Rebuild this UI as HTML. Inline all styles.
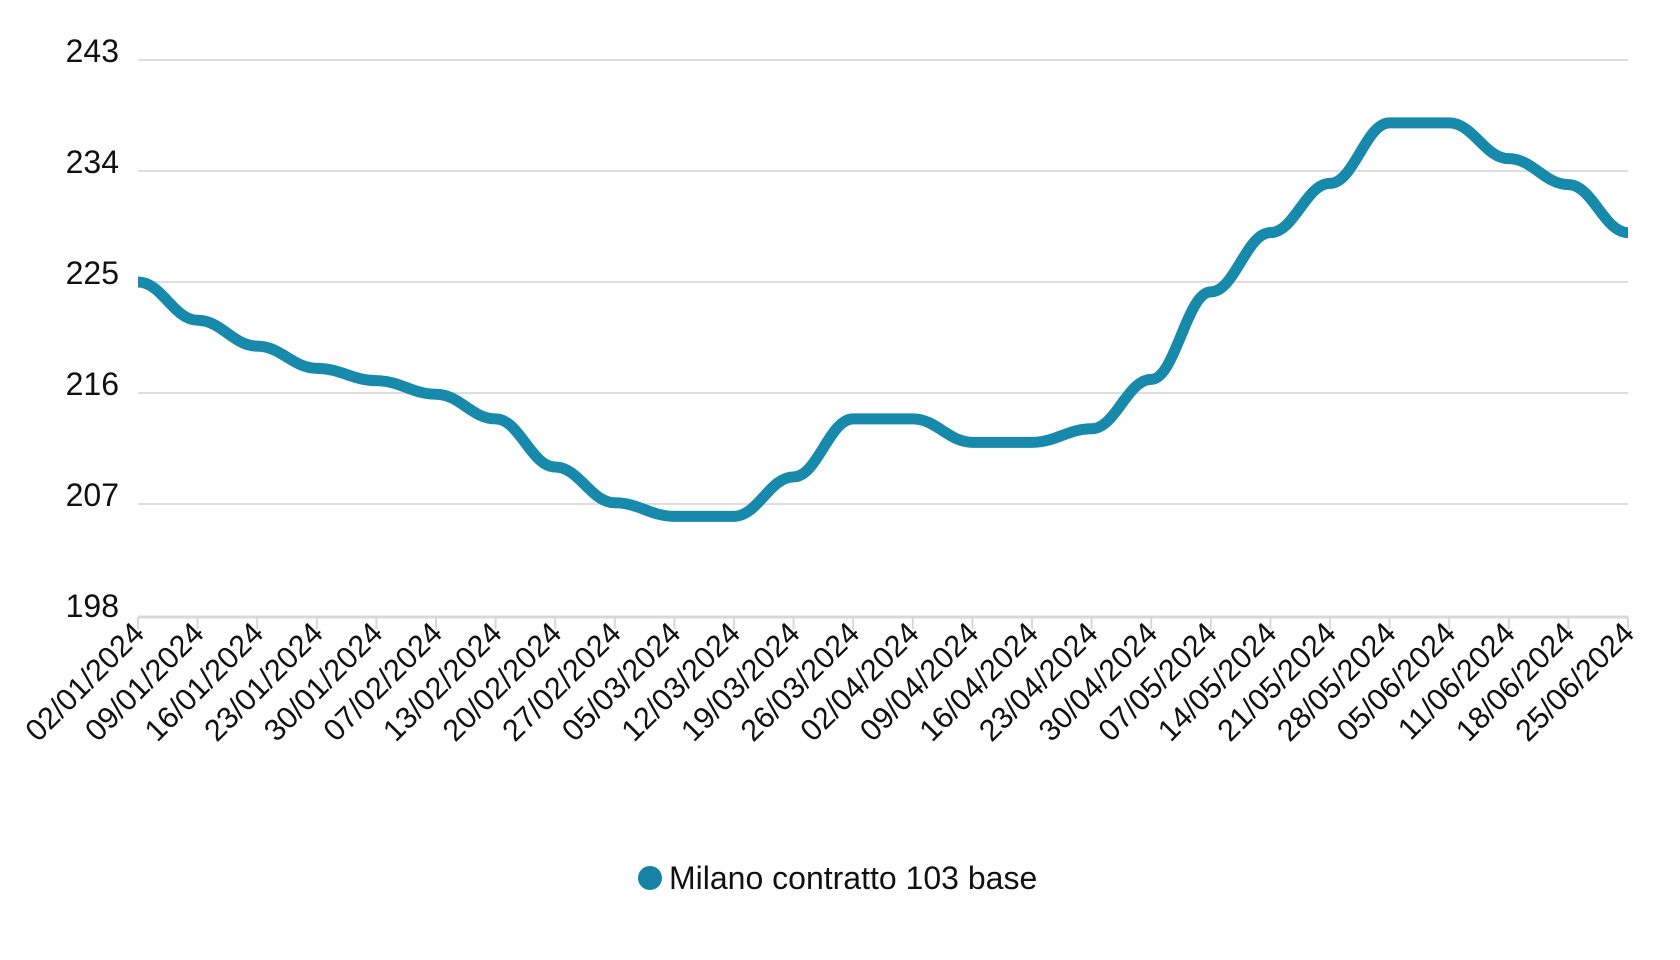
<!DOCTYPE html>
<html><head><meta charset="utf-8"><style>
html,body{margin:0;padding:0;background:#fff;width:1680px;height:960px;overflow:hidden}
svg{display:block;font-family:"Liberation Sans",sans-serif}
</style></head><body>
<svg id="s" width="1680" height="960" xmlns="http://www.w3.org/2000/svg"></svg>
<script>
const s=document.getElementById('s');
const L=138,R=1628,Y0=60,K=111/9;
const yv=v=>Y0+(243-v)*K;
const vals=[225,221.9,219.8,218,217,215.9,213.9,210,207.1,206,206,209.2,213.9,213.9,212,212,213.1,217.1,224.2,229,233,237.9,237.9,235,232.9,229];
const labels=["02/01/2024","09/01/2024","16/01/2024","23/01/2024","30/01/2024","07/02/2024","13/02/2024","20/02/2024","27/02/2024","05/03/2024","12/03/2024","19/03/2024","26/03/2024","02/04/2024","09/04/2024","16/04/2024","23/04/2024","30/04/2024","07/05/2024","14/05/2024","21/05/2024","28/05/2024","05/06/2024","11/06/2024","18/06/2024","25/06/2024"];
const n=vals.length,dx=(R-L)/(n-1);
let h='';
[243,234,225,216,207].forEach(v=>{h+=`<line x1="${L}" x2="${R}" y1="${yv(v)}" y2="${yv(v)}" stroke="#dedede" stroke-width="2"/>`;});
[243,234,225,216,207,198].forEach(v=>{h+=`<text x="119" y="${yv(v)+2}" font-size="32" text-anchor="end" fill="#111">${v}</text>`;});
const ay=617;
h+=`<line x1="${L}" x2="${R}" y1="${ay}" y2="${ay}" stroke="#d8d8d8" stroke-width="3"/>`;
for(let i=0;i<n;i++){const x=L+i*dx;h+=`<line x1="${x}" x2="${x}" y1="${ay}" y2="${ay+12}" stroke="#d8d8d8" stroke-width="2"/>`;
h+=`<text transform="translate(${x+8},${ay+18}) rotate(-45)" font-size="30.5" text-anchor="end" fill="#111">${labels[i]}</text>`;}
const xs=vals.map((v,i)=>L+i*dx),ys=vals.map(yv);
let p=`M${xs[0]},${ys[0]}`;
for(let i=0;i<n-1;i++){const t=dx*0.4;p+=` C${xs[i]+t},${ys[i]} ${xs[i+1]-t},${ys[i+1]} ${xs[i+1]},${ys[i+1]}`;}
h+=`<path d="${p}" fill="none" stroke="#1789aa" stroke-width="11" stroke-linejoin="round"/>`;
h+=`<circle cx="650" cy="878" r="12" fill="#1582a6"/>`;
h+=`<text x="669" y="889" font-size="32" fill="#111">Milano contratto 103 base</text>`;
s.innerHTML=h;
</script>
</body></html>
